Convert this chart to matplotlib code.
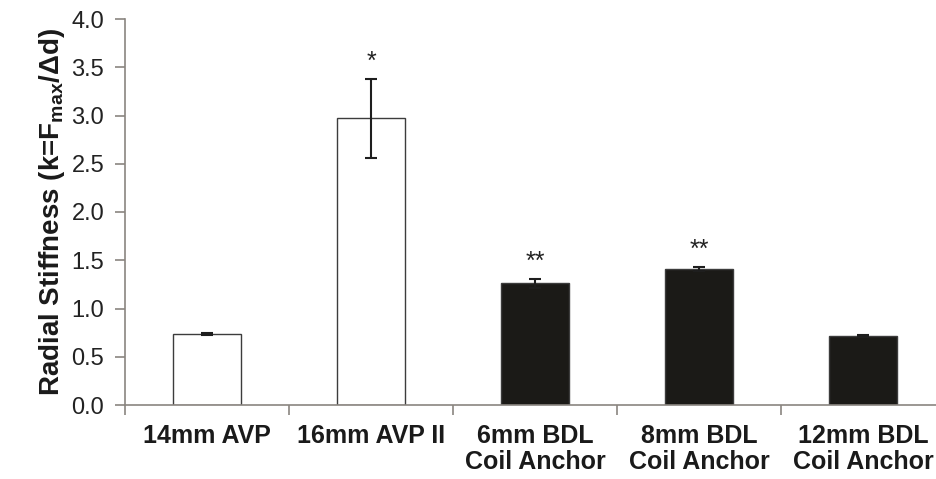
import numpy as np
import matplotlib.pyplot as plt
from matplotlib.ticker import FixedLocator

plt.rcParams['font.family'] = ['Liberation Sans', 'DejaVu Sans']
plt.rcParams['mathtext.fontset'] = 'custom'
plt.rcParams['mathtext.rm'] = 'Liberation Sans:bold'
plt.rcParams['mathtext.bf'] = 'Liberation Sans:bold'

# Data
categories = ['14mm AVP', '16mm AVP II', '6mm BDL\nCoil Anchor',
              '8mm BDL\nCoil Anchor', '12mm BDL\nCoil Anchor']
stiffness = [0.74, 2.97, 1.26, 1.41, 0.72]
errors = [0.01, 0.41, 0.05, 0.02, 0.01]
markers = ['', '*', '**', '**', '']
fills = ['white', 'white', '#1b1a17', '#1b1a17', '#1b1a17']

fig = plt.figure(figsize=(9.36, 4.79), dpi=100)
ax = fig.add_axes([125 / 936, 1 - 405 / 479, 820 / 936, 386 / 479])

x = np.arange(len(categories))
ax.bar(x, stiffness, width=0.41, color=fills, edgecolor='#3c3c3c', linewidth=1.0, zorder=2)
ax.errorbar(x, stiffness, yerr=errors, fmt='none', ecolor='#1e1e1e',
            elinewidth=1.5, capsize=4.5, capthick=1.5, zorder=3)

for xi, v, e, m in zip(x, stiffness, errors, markers):
    if m:
        ax.text(xi, v + e + 0.05, m, ha='center', va='bottom',
                fontsize=18, color='#222222')

ax.set_xlim(-0.5, len(categories) - 0.5)
ax.set_ylim(0, 4.0)
ax.set_yticks(np.arange(0, 4.01, 0.5))
ax.set_yticklabels([f'{t:.1f}' for t in np.arange(0, 4.01, 0.5)])
ax.set_xticks(x)
ax.set_xticklabels(categories, fontweight='bold', fontsize=18, linespacing=1.1)
ax.xaxis.set_minor_locator(FixedLocator(np.arange(-0.5, len(categories), 1.0)))

ax.tick_params(axis='x', which='major', length=0, pad=14, colors='#1a1a1a')
ax.tick_params(axis='x', which='minor', length=7, direction='out', color='#8a8580', width=1.2)
ax.tick_params(axis='y', length=7, direction='out', color='#8a8580', width=1.2,
               labelsize=17, labelcolor='#222222', pad=8)

for s in ['top', 'right']:
    ax.spines[s].set_visible(False)
for s in ['left', 'bottom']:
    ax.spines[s].set_color('#8a8580')
    ax.spines[s].set_linewidth(1.2)

ax.set_ylabel(r'Radial Stiffness (k=F$_{\mathrm{max}}$/Δd)', fontsize=20,
              fontweight='bold', color='#1a1a1a', labelpad=3)

fig.savefig('out.png', dpi=100)
